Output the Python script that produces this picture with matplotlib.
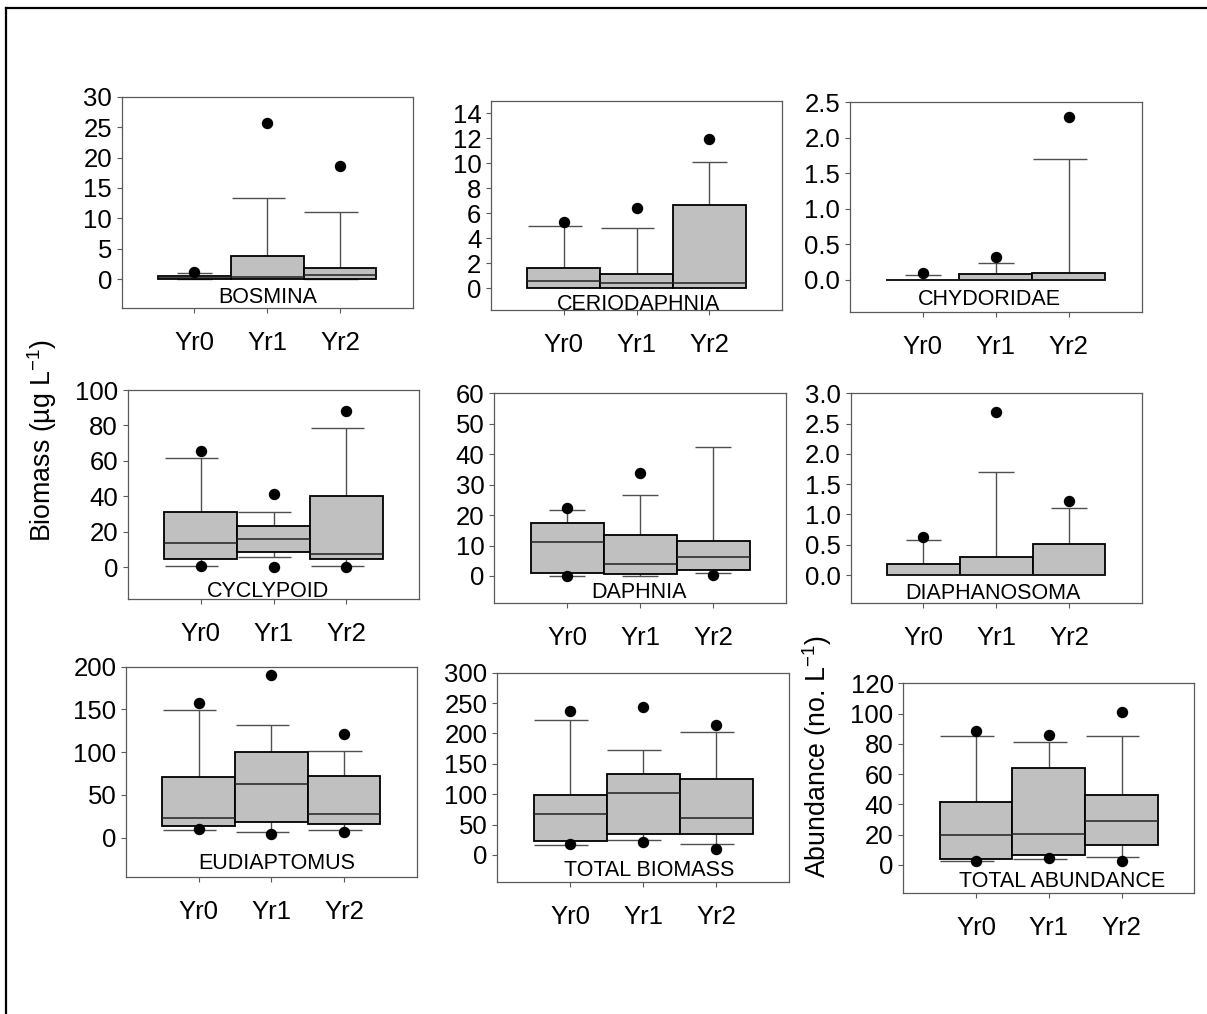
import matplotlib
matplotlib.use("Agg")
import matplotlib.pyplot as plt
from matplotlib.lines import Line2D

plt.rcParams['font.family'] = ['Liberation Sans', 'DejaVu Sans']
plt.rcParams['mathtext.fontset'] = 'custom'
plt.rcParams['mathtext.rm'] = 'Liberation Sans'
plt.rcParams['mathtext.it'] = 'Liberation Sans:italic'

# ---- data -------------------------------------------------------------
years = ["Yr0", "Yr1", "Yr2"]
panels = ["BOSMINA", "CERIODAPHNIA", "CHYDORIDAE",
          "CYCLYPOID", "DAPHNIA", "DIAPHANOSOMA",
          "EUDIAPTOMUS", "TOTAL BIOMASS", "TOTAL ABUNDANCE"]

q1 = [[0.05, 0.0, 0.1], [0.0, 0.0, 0.0], [0.0, 0.0, 0.0],
      [4.7, 8.6, 4.5], [1.1, 0.55, 2.0], [0.0, 0.0, 0.0],
      [14.0, 18.3, 16.4], [22.5, 34.6, 34.0], [3.7, 6.4, 13.0]]
median = [[0.3, 0.3, 0.7], [0.56, 0.4, 0.4], [0.0, 0.0, 0.0],
          [13.5, 16.2, 7.7], [11.06, 4.05, 6.35], [0.0, 0.0, 0.0],
          [23.4, 62.4, 27.3], [66.9, 101.5, 61.4], [20.0, 20.7, 28.8]]
q3 = [[0.6, 3.83, 1.8], [1.6, 1.15, 6.67], [0.0, 0.08, 0.103],
      [31.0, 23.1, 40.0], [17.3, 13.6, 11.4], [0.18, 0.30, 0.51],
      [71.3, 100.2, 71.7], [99.3, 132.7, 125.6], [41.8, 64.1, 46.0]]
whisker_low = [[0.0, 0.0, 0.0], [0.0, 0.0, 0.0], [0.0, 0.0, 0.0],
               [0.75, 6.0, 0.75], [0.0, 0.0, 1.0], [0.0, 0.0, 0.0],
               [9.0, 7.0, 8.6], [17.0, 24.1, 18.7], [2.9, 4.2, 5.1]]
whisker_high = [[1.0, 13.4, 11.0], [4.96, 4.8, 10.13], [0.07, 0.235, 1.70],
                [61.7, 31.0, 78.6], [21.8, 26.5, 42.4], [0.58, 1.70, 1.11],
                [148.9, 131.8, 101.4], [222.7, 173.3, 203.0], [85.4, 81.2, 85.4]]
outlier_high = [[1.2, 25.6, 18.6], [5.33, 6.45, 11.97], [0.094, 0.33, 2.30],
                [65.4, 41.4, 88.2], [22.2, 33.9, None], [0.62, 2.69, 1.23],
                [157.9, 189.9, 120.9], [237.0, 244.0, 214.0], [88.3, 85.9, 101.1]]
outlier_low = [[None, None, None], [None, None, None], [None, None, None],
               [0.9, 0.0, 0.3], [0.0, None, 0.45], [None, None, None],
               [9.7, 4.7, 6.2], [17.6, 21.4, 10.4], [2.9, 4.4, 2.9]]

y_max = [30, 15, 2.5, 100, 60, 3.0, 200, 300, 120]
y_step = [5, 2, 0.5, 20, 10, 0.5, 50, 50, 20]
y_tick_top = [30, 14, 2.5, 100, 60, 3.0, 200, 300, 120]
y_min = [-4.67, -1.73, -0.455, -17.9, -8.98, -0.457, -45.6, -45.0, -18.7]
decimal_ticks = [False, False, True, False, False, True, False, False, False]

# ---- layout (pixels in a 1207 x 1014 canvas) -------------------------
W, H = 1207, 1014
axes_px = [(121.7, 96.7, 412.7, 307.7), (491, 101, 782.3, 310), (850, 102.3, 1141.7, 312.3),
           (127.7, 390, 419.3, 599), (494, 393.3, 786, 603.3), (850.7, 393.3, 1141.7, 602.7),
           (126, 666.7, 416.7, 876.7), (497.3, 672.7, 789, 882.3), (903.3, 683.3, 1194.3, 893.3)]
name_x = [2.01, 2.02, 1.915, 1.93, 1.99, 1.95, 2.07, 2.085, 2.18]
name_y = [0.024, 0.0, 0.035, 0.011, 0.024, 0.016, 0.037, 0.032, 0.032]
# left reach of the whisker caps ("a" reaches the box edge, "s" is centred)
cap_kind = [["s", "a", "a"], ["a", "a", "s"], ["s", "s", "a"],
            ["a", "a", "a"], ["s", "s", "s"], ["s", "s", "s"],
            ["a", "a", "a"], ["a", "a", "a"], ["a", "a", "a"]]

BOX_FILL = "#c0c0c0"
WHISK = "#505050"
SPINE = "#5a5a5a"

fig = plt.figure(figsize=(W / 100, H / 100), dpi=100)

# outer frame (top and left rules)
fig.add_artist(Line2D([6 / W, 1.0], [1 - 8 / H, 1 - 8 / H], color="black", lw=1.6,
                      transform=fig.transFigure))
fig.add_artist(Line2D([6 / W, 6 / W], [1 - 8 / H, 0.0], color="black", lw=1.6,
                      transform=fig.transFigure))

xpos = [1, 2, 3]
for i, name in enumerate(panels):
    l, t, r, b = axes_px[i]
    ax = fig.add_axes([l / W, 1 - b / H, (r - l) / W, (b - t) / H])

    # boxes
    heights = [q3[i][k] - q1[i][k] for k in range(3)]
    ax.bar(xpos, heights, bottom=q1[i], width=1.0, color=BOX_FILL,
           edgecolor="black", linewidth=1.3, zorder=2)
    # medians
    for k in range(3):
        ax.hlines(median[i][k], xpos[k] - 0.5, xpos[k] + 0.5, color="#202020",
                  linewidth=1.1, zorder=3)
    # whiskers and caps
    for k in range(3):
        x = xpos[k]
        left = 0.49 if cap_kind[i][k] == "a" else 0.245
        ax.vlines(x, q3[i][k], whisker_high[i][k], color=WHISK, linewidth=1.0, zorder=1)
        ax.hlines(whisker_high[i][k], x - left, x + 0.245, color=WHISK, linewidth=1.0, zorder=1)
        if whisker_low[i][k] < q1[i][k]:
            ax.vlines(x, whisker_low[i][k], q1[i][k], color=WHISK, linewidth=1.0, zorder=1)
            ax.hlines(whisker_low[i][k], x - left, x + 0.245, color=WHISK, linewidth=1.0, zorder=1)
    # outliers
    for k in range(3):
        for v in (outlier_high[i][k], outlier_low[i][k]):
            if v is not None:
                ax.plot(xpos[k], v, "o", color="black", markersize=7.2, zorder=4,
                        clip_on=False)

    ax.set_xlim(0, 4)
    ax.set_ylim(y_min[i], y_max[i])
    ticks = []
    v = 0.0
    while v <= y_tick_top[i] + 1e-9:
        ticks.append(round(v, 4))
        v += y_step[i]
    ax.set_yticks(ticks)
    if decimal_ticks[i]:
        ax.set_yticklabels([f"{t:.1f}" for t in ticks])
    else:
        ax.set_yticklabels([f"{t:g}" for t in ticks])
    ax.set_xticks(xpos)
    ax.set_xticklabels(years)
    ax.tick_params(axis="y", direction="out", length=3.5, width=0.8, color=SPINE,
                   labelsize=18.5, pad=3.5)
    ax.tick_params(axis="x", direction="out", length=3.5, width=0.8, color=SPINE,
                   labelsize=18.5, pad=13)
    for sp in ax.spines.values():
        sp.set_color(SPINE)
        sp.set_linewidth(0.9)

    ax.text(name_x[i], name_y[i], name, transform=ax.get_xaxis_transform(),
            ha="center", va="baseline", fontsize=15.5, zorder=5)

fig.text(42 / W, 1 - 440 / H, "Biomass (µg L$^{-1}$)", rotation=90,
         ha="center", va="center", fontsize=19.3)
fig.text(817.5 / W, 1 - 757 / H, "Abundance (no. L$^{-1}$)", rotation=90,
         ha="center", va="center", fontsize=19.3)

fig.savefig("out.png", dpi=100)
